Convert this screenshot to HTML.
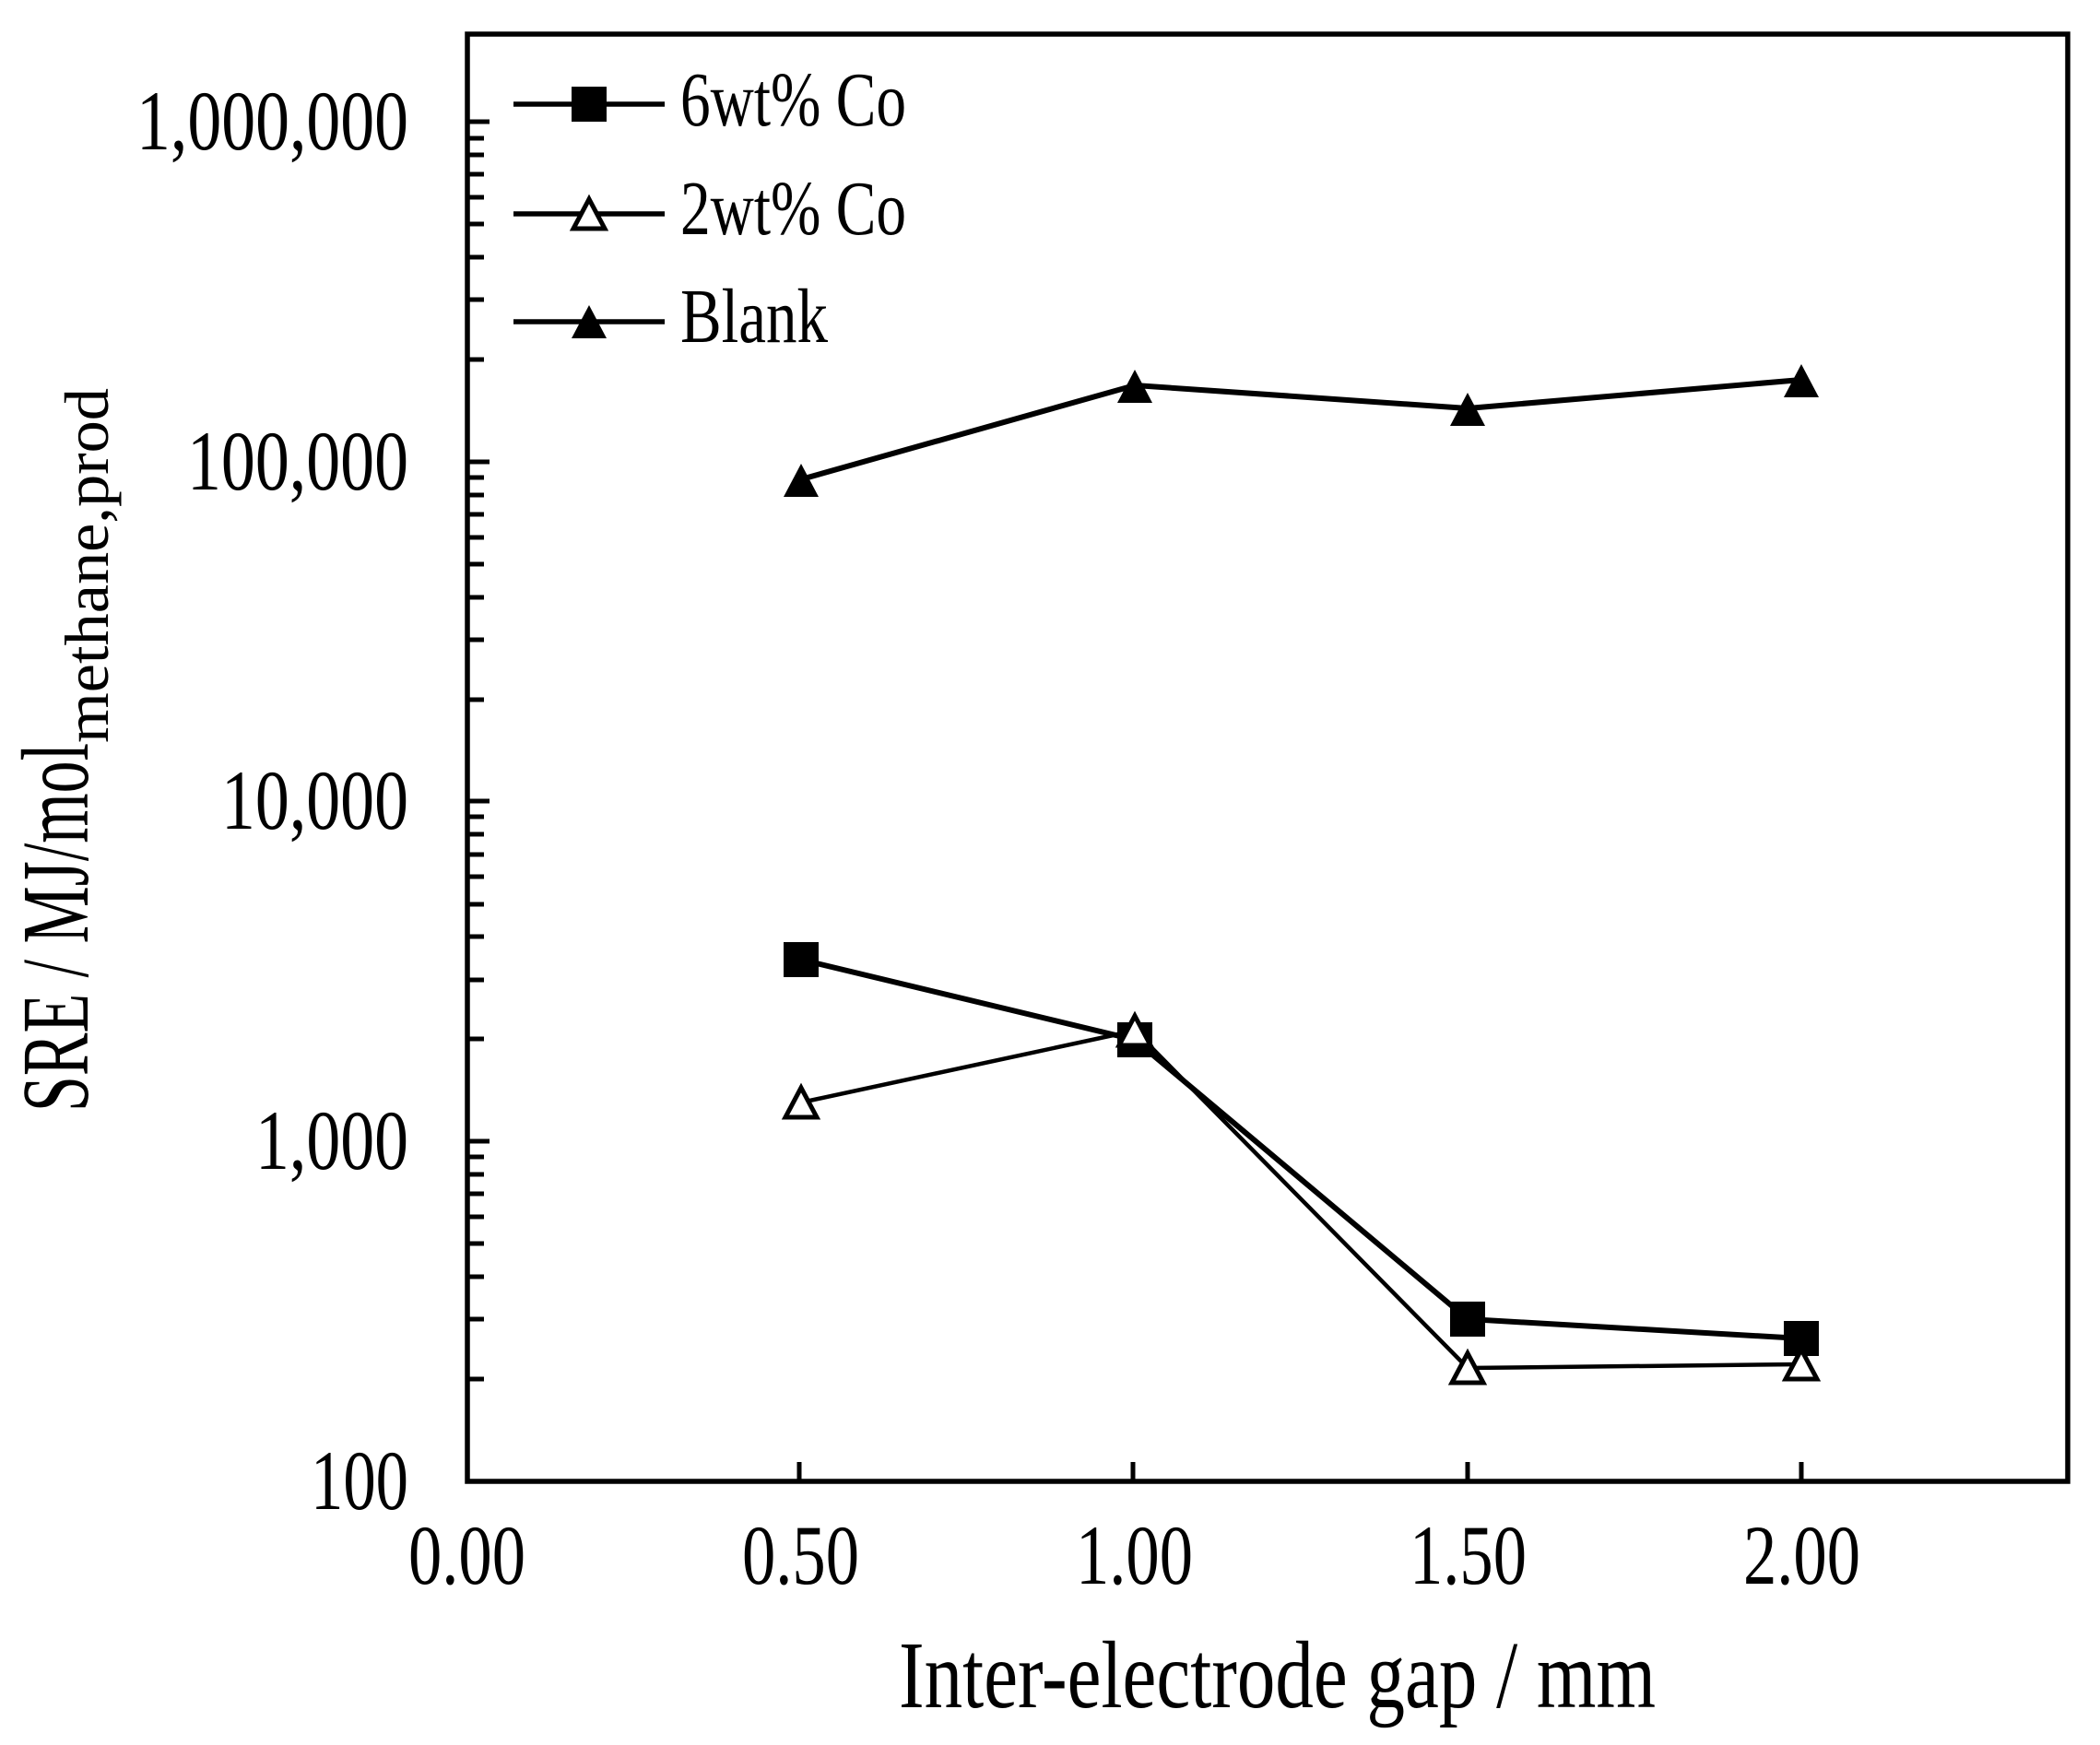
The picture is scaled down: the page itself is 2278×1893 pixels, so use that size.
<!DOCTYPE html>
<html><head><meta charset="utf-8"><style>html,body{margin:0;padding:0;background:#fff}svg{display:block}</style></head>
<body>
<svg width="2278" height="1893" viewBox="0 0 2278 1893" xmlns="http://www.w3.org/2000/svg" font-family="'Liberation Serif', serif" fill="#000">
<rect width="2278" height="1893" fill="#fff"/>
<g stroke="#000" stroke-width="5">
<line x1="507" y1="132" x2="531" y2="132"/><line x1="507" y1="501" x2="531" y2="501"/><line x1="507" y1="869" x2="531" y2="869"/><line x1="507" y1="1238" x2="531" y2="1238"/>
<line x1="507" y1="150" x2="525" y2="150"/><line x1="507" y1="168" x2="525" y2="168"/><line x1="507" y1="189" x2="525" y2="189"/><line x1="507" y1="214" x2="525" y2="214"/><line x1="507" y1="243" x2="525" y2="243"/><line x1="507" y1="279" x2="525" y2="279"/><line x1="507" y1="325" x2="525" y2="325"/><line x1="507" y1="390" x2="525" y2="390"/>
<line x1="507" y1="518" x2="525" y2="518"/><line x1="507" y1="537" x2="525" y2="537"/><line x1="507" y1="558" x2="525" y2="558"/><line x1="507" y1="583" x2="525" y2="583"/><line x1="507" y1="612" x2="525" y2="612"/><line x1="507" y1="648" x2="525" y2="648"/><line x1="507" y1="694" x2="525" y2="694"/><line x1="507" y1="759" x2="525" y2="759"/>
<line x1="507" y1="886" x2="525" y2="886"/><line x1="507" y1="905" x2="525" y2="905"/><line x1="507" y1="927" x2="525" y2="927"/><line x1="507" y1="951" x2="525" y2="951"/><line x1="507" y1="981" x2="525" y2="981"/><line x1="507" y1="1016" x2="525" y2="1016"/><line x1="507" y1="1063" x2="525" y2="1063"/><line x1="507" y1="1127" x2="525" y2="1127"/>
<line x1="507" y1="1255" x2="525" y2="1255"/><line x1="507" y1="1274" x2="525" y2="1274"/><line x1="507" y1="1295" x2="525" y2="1295"/><line x1="507" y1="1320" x2="525" y2="1320"/><line x1="507" y1="1349" x2="525" y2="1349"/><line x1="507" y1="1385" x2="525" y2="1385"/><line x1="507" y1="1431" x2="525" y2="1431"/><line x1="507" y1="1496" x2="525" y2="1496"/>
<line x1="867" y1="1607" x2="867" y2="1586"/><line x1="1229" y1="1607" x2="1229" y2="1586"/><line x1="1592" y1="1607" x2="1592" y2="1586"/><line x1="1954" y1="1607" x2="1954" y2="1586"/>
</g>
<rect x="507" y="37" width="1736" height="1570" fill="none" stroke="#000" stroke-width="5.5"/>
<g font-size="92" text-anchor="end" lengthAdjust="spacingAndGlyphs">
<text x="443" y="162" textLength="295" lengthAdjust="spacingAndGlyphs">1,000,000</text>
<text x="443" y="531" textLength="240" lengthAdjust="spacingAndGlyphs">100,000</text>
<text x="443" y="899" textLength="203" lengthAdjust="spacingAndGlyphs">10,000</text>
<text x="443" y="1268" textLength="166" lengthAdjust="spacingAndGlyphs">1,000</text>
<text x="443" y="1637" textLength="106" lengthAdjust="spacingAndGlyphs">100</text>
</g>
<g font-size="92">
<text x="443" y="1718" textLength="127" lengthAdjust="spacingAndGlyphs">0.00</text>
<text x="805" y="1718" textLength="127" lengthAdjust="spacingAndGlyphs">0.50</text>
<text x="1167" y="1718" textLength="127" lengthAdjust="spacingAndGlyphs">1.00</text>
<text x="1529" y="1718" textLength="127" lengthAdjust="spacingAndGlyphs">1.50</text>
<text x="1891" y="1718" textLength="127" lengthAdjust="spacingAndGlyphs">2.00</text>
</g>
<text x="975" y="1852" font-size="104" textLength="821" lengthAdjust="spacingAndGlyphs">Inter-electrode gap / mm</text>
<g transform="translate(95,1206) rotate(-90)">
<text x="0" y="0" font-size="104" textLength="400" lengthAdjust="spacingAndGlyphs">SRE / MJ/mol</text>
<text x="400" y="22" font-size="68" textLength="385" lengthAdjust="spacingAndGlyphs">methane,prod</text>
</g>
<g stroke="#000" stroke-width="6" fill="none">
<polyline points="869,520 1231,418 1592,443 1954,412"/>
<polyline points="869,1041 1231,1128 1592,1431 1954,1452"/>
<polyline points="869,1196 1231,1118 1592,1484 1954,1480" stroke-width="4.5"/>
</g>
<g fill="#000">
<path d="M869,503 L888,539 L850,539 Z"/><path d="M1231,401 L1250,437 L1212,437 Z"/><path d="M1592,426 L1611,462 L1573,462 Z"/><path d="M1954,395 L1973,431 L1935,431 Z"/>
<rect x="850" y="1022" width="38" height="38"/><rect x="1212" y="1109" width="38" height="38"/><rect x="1573" y="1412" width="38" height="38"/><rect x="1935" y="1433" width="38" height="38"/>
</g>
<g fill="#fff" stroke="#000" stroke-width="5">
<path d="M869,1180 L886,1212 L852,1212 Z"/><path d="M1231,1102 L1248,1134 L1214,1134 Z"/><path d="M1592,1468 L1609,1500 L1575,1500 Z"/><path d="M1954,1464 L1971,1496 L1937,1496 Z"/>
</g>
<g stroke="#000" stroke-width="5.5">
<line x1="557" y1="113" x2="721" y2="113"/><line x1="557" y1="232" x2="721" y2="232"/><line x1="557" y1="349" x2="721" y2="349"/>
</g>
<rect x="620" y="94" width="38" height="38"/>
<path d="M639,216 L656,248 L622,248 Z" fill="#fff" stroke="#000" stroke-width="5"/>
<path d="M639,331 L658,367 L620,367 Z"/>
<g font-size="84">
<text x="738" y="136" textLength="245" lengthAdjust="spacingAndGlyphs">6wt% Co</text>
<text x="738" y="254" textLength="245" lengthAdjust="spacingAndGlyphs">2wt% Co</text>
<text x="738" y="371" textLength="160" lengthAdjust="spacingAndGlyphs">Blank</text>
</g>
</svg>
</body></html>
